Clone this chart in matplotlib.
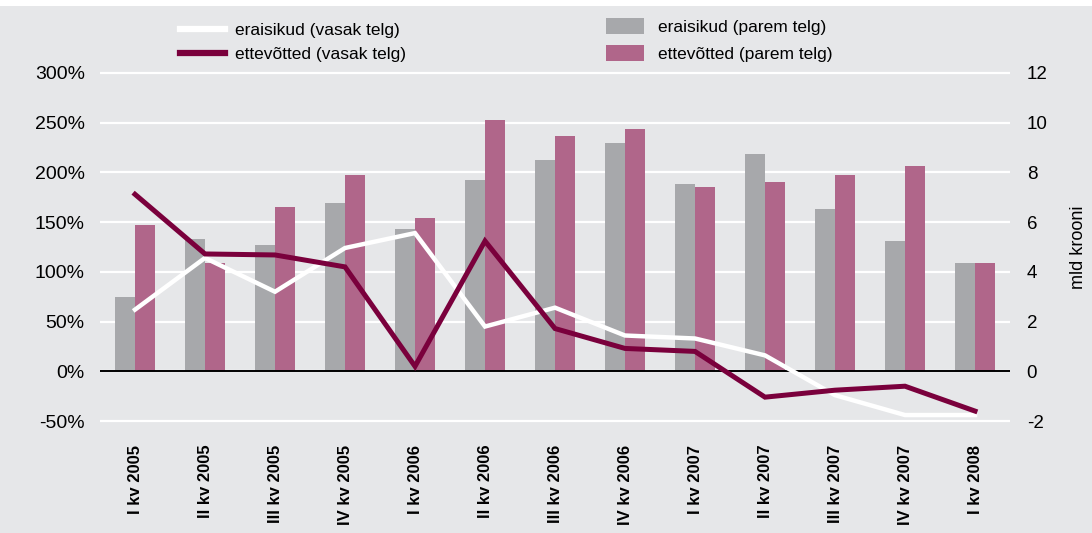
import matplotlib
matplotlib.use("Agg")
import matplotlib.pyplot as plt
import numpy as np
from matplotlib.lines import Line2D
from matplotlib.patches import Patch, Rectangle

categories = ["I kv 2005", "II kv 2005", "III kv 2005", "IV kv 2005",
              "I kv 2006", "II kv 2006", "III kv 2006", "IV kv 2006",
              "I kv 2007", "II kv 2007", "III kv 2007", "IV kv 2007",
              "I kv 2008"]
# right axis (mld krooni)
eraisikud_bar = [3.0, 5.32, 5.08, 6.76, 5.72, 7.68, 8.48, 9.2, 7.52, 8.76, 6.52, 5.24, 4.36]
ettevotted_bar = [5.88, 4.36, 6.6, 7.88, 6.16, 10.12, 9.48, 9.76, 7.4, 7.6, 7.88, 8.24, 4.36]
# left axis (%)
eraisikud_line = [62, 114, 80, 124, 139, 45, 64, 36, 33, 16, -24, -44, -44]
ettevotted_line = [178, 118, 117, 105, 5, 131, 43, 23, 20, -26, -19, -15, -40]

left_ticks = [-50, 0, 50, 100, 150, 200, 250, 300]
right_ticks = [-2, 0, 2, 4, 6, 8, 10, 12]

BG = "#e6e7e9"
GRAY = "#a7a8ab"
PINK = "#b0668a"
MAROON = "#7a003c"

plt.rcParams['font.family'] = ['Liberation Sans', 'DejaVu Sans']

fig = plt.figure(figsize=(10.92, 5.33), dpi=100, facecolor=BG)
fig.patches.append(Rectangle((0, 1 - 6/533), 1, 6/533, transform=fig.transFigure,
                             facecolor="white", edgecolor="none", zorder=0))
ax = fig.add_axes([100/1092, 1 - 424/533, 910/1092, 354/533])
ax2 = ax.twinx()

x = np.arange(len(categories))
w = 0.285
for t in right_ticks:
    ax2.axhline(t, color="white", lw=1.6, zorder=0.5)
ax2.bar(x - w/2, eraisikud_bar, width=w, color=GRAY, zorder=2)
ax2.bar(x + w/2, ettevotted_bar, width=w, color=PINK, zorder=2)
ax2.axhline(0, color="black", lw=1.4, zorder=3)

ax2.set_ylim(-53/25, 303/25)
ax.set_ylim(-53, 303)
ax.set_xlim(-0.5, len(categories) - 0.5)

# line axis above bar axis
ax.set_zorder(ax2.get_zorder() + 1)
ax.patch.set_visible(False)
ax2.patch.set_visible(False)

ax.plot(x, eraisikud_line, color="white", lw=3.2, zorder=5, solid_joinstyle="miter")
ax.plot(x, ettevotted_line, color=MAROON, lw=3.6, zorder=6, solid_joinstyle="miter")

ax.set_yticks(left_ticks)
ax.set_yticklabels([f"{t}%" for t in left_ticks], fontsize=14)
ax2.set_yticks(right_ticks)
ax2.set_yticklabels([str(t) for t in right_ticks], fontsize=13.5)
ax2.set_ylabel("mld krooni", fontsize=13, labelpad=16)

ax.set_xticks(x)
ax.set_xticklabels(categories, rotation=90, fontsize=12, fontweight="bold", va="top")

for a in (ax, ax2):
    for s in a.spines.values():
        s.set_visible(False)
    a.tick_params(length=0)
ax.tick_params(axis="x", pad=15)
ax.tick_params(axis="y", pad=11)
ax2.tick_params(axis="y", pad=12)

h1 = [Line2D([0], [0], color="white", lw=4.5), Line2D([0], [0], color=MAROON, lw=4.5)]
leg1 = fig.legend(h1, ["eraisikud (vasak telg)", "ettevõtted (vasak telg)"],
                  loc="upper left", bbox_to_anchor=(180/1092, 1 - 23/533),
                  frameon=False, fontsize=12.5, handlelength=2.6, handletextpad=0.57,
                  labelspacing=0.5, borderpad=0, borderaxespad=0)
h2 = [Patch(facecolor=GRAY), Patch(facecolor=PINK)]
leg2 = fig.legend(h2, ["eraisikud (parem telg)", "ettevõtted (parem telg)"],
                  loc="upper left", bbox_to_anchor=(606/1092, 1 - 18/533),
                  frameon=False, fontsize=12.5, handlelength=2.2, handleheight=1.05,
                  handletextpad=0.8, labelspacing=0.58, borderpad=0, borderaxespad=0)

fig.savefig("out.png", dpi=100, facecolor=BG)
